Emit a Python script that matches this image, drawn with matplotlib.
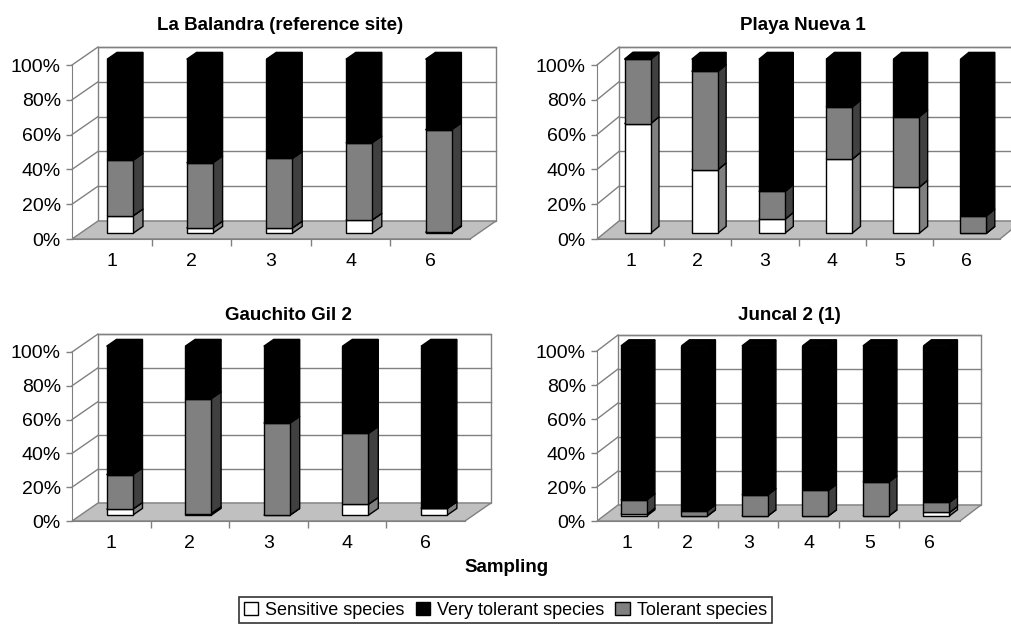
import matplotlib.pyplot as plt
from matplotlib.patches import Polygon, Patch
import numpy as np

plt.rcParams['font.family'] = ['Liberation Sans', 'DejaVu Sans']

W, H = 1011, 626

# percentage of each tolerance group per sampling, one list per site
titles = ['La Balandra (reference site)', 'Playa Nueva 1', 'Gauchito Gil 2', 'Juncal 2 (1)']
samplings = [[1, 2, 3, 4, 6], [1, 2, 3, 4, 5, 6], [1, 2, 3, 4, 6], [1, 2, 3, 4, 5, 6]]
sensitive = [[10, 3, 3, 7.5, 0.5],
             [63, 36.5, 8, 42.5, 26.5, 0],
             [3.5, 1, 0, 6.5, 4],
             [1, 0, 0, 0, 0, 2]]
tolerant = [[32, 37.5, 40, 44.5, 59],
            [37, 56.5, 16, 30, 40.5, 10],
            [20.5, 68, 54.5, 42, 0],
            [8.5, 3, 12.5, 15, 20, 6]]
very_tolerant = [[58, 59.5, 57, 48, 40.5],
                 [0, 7, 76, 27.5, 33, 90],
                 [76, 31, 45.5, 51.5, 96],
                 [90.5, 97, 87.5, 85, 80, 92]]

series_names = ['Sensitive species', 'Very tolerant species', 'Tolerant species']

# front colour, side colour for each stacked group (bottom to top)
front_cols = ['white', '#808080', 'black']
side_cols = ['#808080', '#404040', 'black']
top_cols = ['white', '#808080', 'black']

# pixel boxes: left x, right x, y of 0%, y of 100%, depth dx, depth dy
boxes = [(72, 470, 239, 65, 26, 18),
         (597, 1000, 239, 65, 22, 18),
         (72, 465, 521, 352, 26, 18),
         (597, 960, 521, 351, 21, 16)]
title_pos = [(280, 25), (803, 25), (288, 316), (789, 316)]

AX_COL = '#808080'
ZF, ZB = 0.32, 0.70


def draw_panel(ax, cats, stacks, box):
    x0, x1, y0, y100, dx, dy = box
    n = len(cats)
    x = np.arange(1, n + 1)
    px_x = (x1 - x0) / n
    px_y = (y0 - y100) / 100
    DX = dx / px_x
    DY = dy / px_y
    w = 26 / px_x

    ax.set_xlim(0.5, n + 0.5)
    ax.set_ylim(0, 100)

    # back wall with gridlines
    left, right = 0.5, n + 0.5
    wall = Polygon([(left + DX, DY), (right + DX, DY), (right + DX, 100 + DY), (left + DX, 100 + DY)],
                   closed=True, facecolor='white', edgecolor=AX_COL, lw=1, clip_on=False, zorder=1)
    ax.add_patch(wall)
    for g in range(20, 101, 20):
        ax.plot([left + DX, right + DX], [g + DY, g + DY], color=AX_COL, lw=1, clip_on=False, zorder=1.5)
        ax.plot([left, left + DX], [g, g + DY], color=AX_COL, lw=1, clip_on=False, zorder=1.5)

    # floor
    floor = Polygon([(left, 0), (right, 0), (right + DX, DY), (left + DX, DY)],
                    closed=True, facecolor='#c0c0c0', edgecolor=AX_COL, lw=1, clip_on=False, zorder=2)
    ax.add_patch(floor)

    bottom = np.zeros(n)
    for k, vals in enumerate(stacks):
        vals = np.asarray(vals, dtype=float)
        top = bottom + vals
        bars = ax.bar(x + ZF * DX, vals, bottom=bottom + ZF * DY, width=w,
                      color=front_cols[k], edgecolor='black', lw=1, zorder=11 + 2 * k)
        for b in bars:
            b.set_clip_on(False)
        for i in range(n):
            xr = x[i] + w / 2
            xl = x[i] - w / 2
            side = Polygon([(xr + ZF * DX, bottom[i] + ZF * DY), (xr + ZB * DX, bottom[i] + ZB * DY),
                            (xr + ZB * DX, top[i] + ZB * DY), (xr + ZF * DX, top[i] + ZF * DY)],
                           closed=True, facecolor=side_cols[k], edgecolor='black', lw=1,
                           clip_on=False, zorder=10 + 2 * k)
            lid = Polygon([(xl + ZF * DX, top[i] + ZF * DY), (xr + ZF * DX, top[i] + ZF * DY),
                           (xr + ZB * DX, top[i] + ZB * DY), (xl + ZB * DX, top[i] + ZB * DY)],
                          closed=True, facecolor=top_cols[k], edgecolor='black', lw=1,
                          clip_on=False, zorder=10 + 2 * k)
            ax.add_patch(side)
            ax.add_patch(lid)
        bottom = top

    # front axes
    for s in ['top', 'right']:
        ax.spines[s].set_visible(False)
    ax.spines['left'].set_color(AX_COL)
    ax.spines['bottom'].set_color(AX_COL)
    ax.set_yticks(range(0, 101, 20))
    ax.set_yticklabels(['%d%%' % v for v in range(0, 101, 20)])
    ax.set_xticks(x)
    ax.set_xticklabels([str(c) for c in cats])
    ax.set_xticks(np.arange(1.5, n + 0.5), minor=True)
    ax.tick_params(axis='x', which='major', length=0, pad=10, labelsize=14)
    ax.tick_params(axis='x', which='minor', length=5, color=AX_COL, width=1)
    ax.tick_params(axis='y', length=4, color=AX_COL, width=1, pad=4, labelsize=14)
    ax.patch.set_visible(False)


fig = plt.figure(figsize=(W / 100, H / 100), dpi=100)

for p in range(4):
    x0, x1, y0, y100, dx, dy = boxes[p]
    ax = fig.add_axes([x0 / W, 1 - y0 / H, (x1 - x0) / W, (y0 - y100) / H])
    stacks = [sensitive[p], tolerant[p], very_tolerant[p]]
    draw_panel(ax, samplings[p], stacks, boxes[p])
    tx, ty = title_pos[p]
    fig.text(tx / W, 1 - ty / H, titles[p], ha='center', va='center', fontsize=13.5, fontweight='bold')

fig.text(507 / W, 1 - 567 / H, 'Sampling', ha='center', va='center', fontsize=13.5, fontweight='bold')

handles = [Patch(facecolor='white', edgecolor='black', label=series_names[0]),
           Patch(facecolor='black', edgecolor='black', label=series_names[1]),
           Patch(facecolor='#808080', edgecolor='black', label=series_names[2])]
leg = fig.legend(handles=handles, loc='upper center', bbox_to_anchor=(0.5, 1 - 597 / H), ncol=3,
                 frameon=True, fancybox=False, edgecolor='black', fontsize=13,
                 handlelength=0.8, handleheight=0.8, handletextpad=0.4, columnspacing=0.6,
                 borderpad=0.25, borderaxespad=0)
leg.get_frame().set_linewidth(1.2)

fig.savefig('out.png', dpi=100)
